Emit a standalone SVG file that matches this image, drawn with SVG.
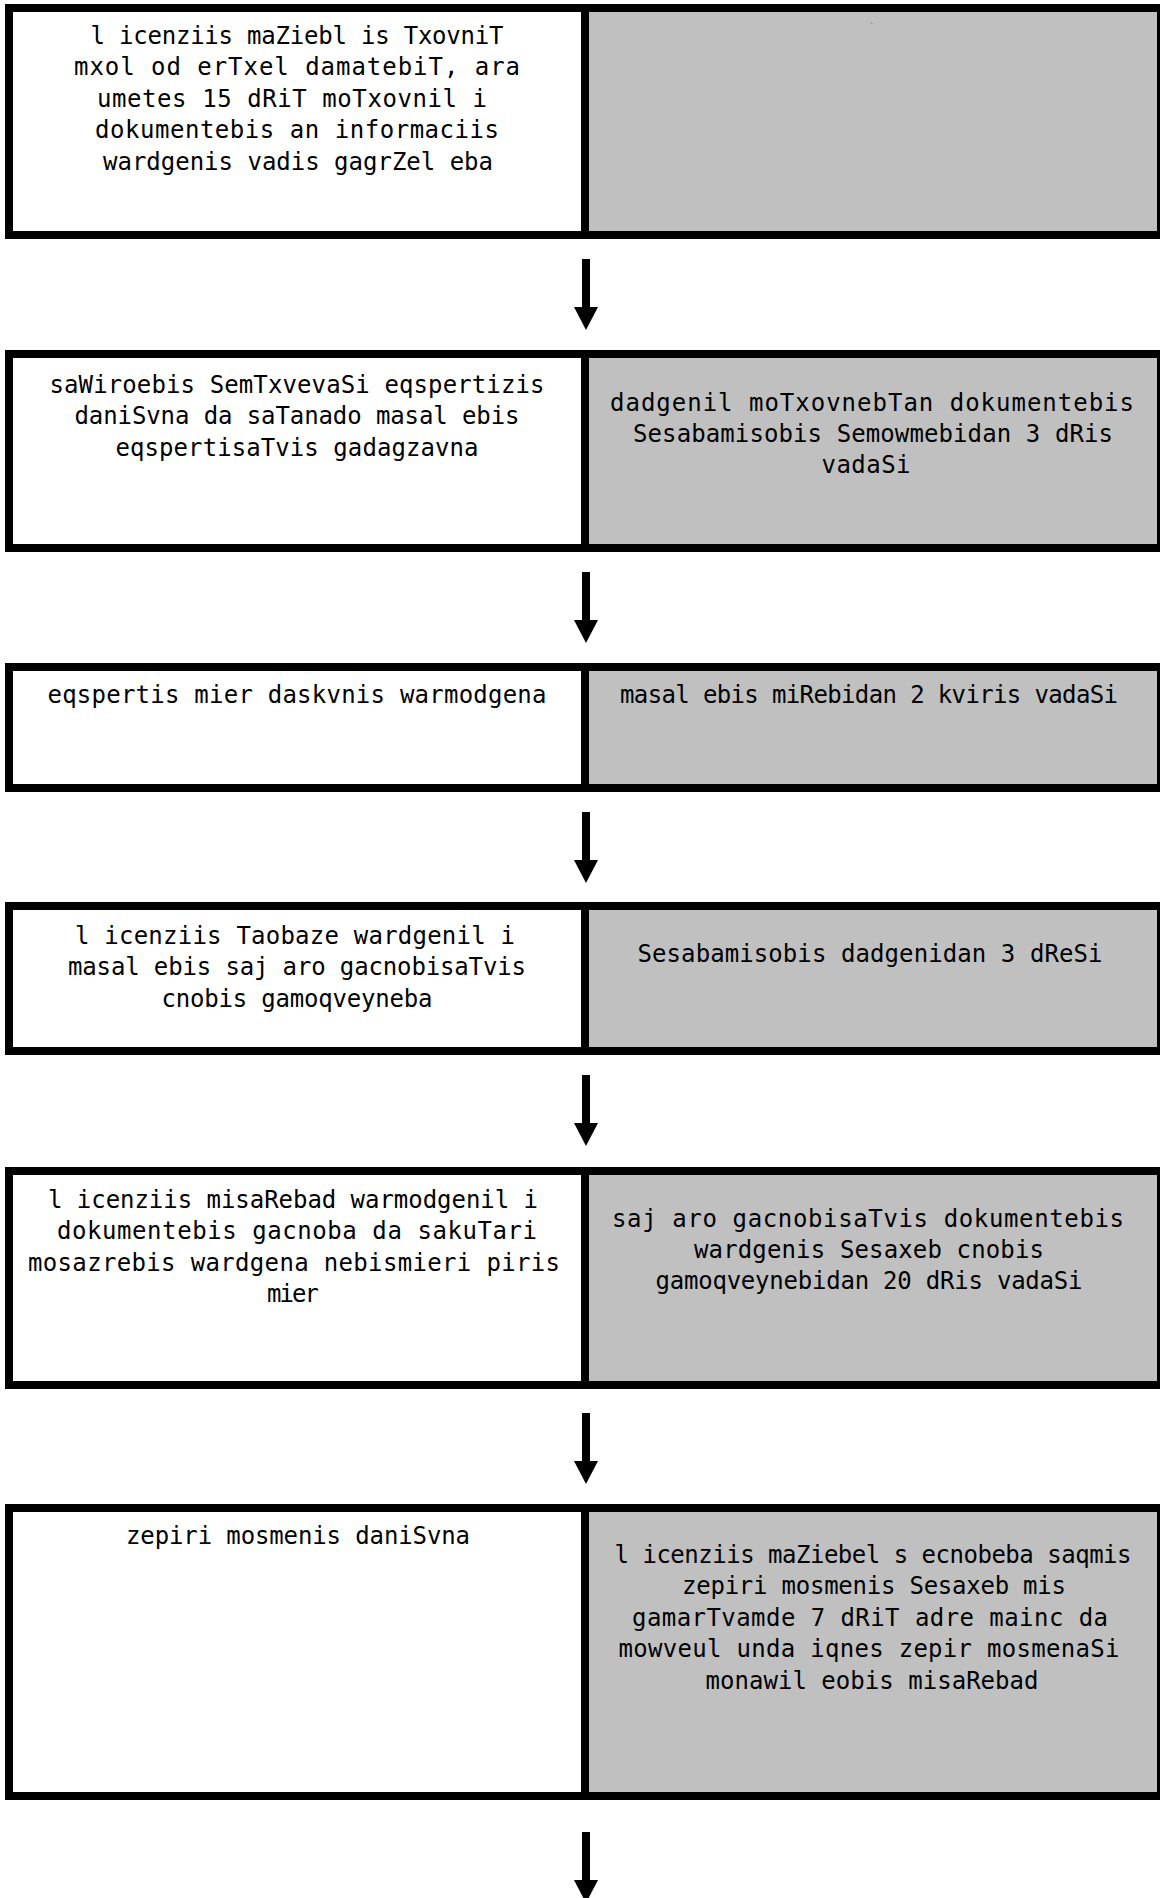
<svg xmlns="http://www.w3.org/2000/svg" width="1160" height="1898" viewBox="0 0 1160 1898">
<style>
.cell{stroke:#000;stroke-width:8}
.l{fill:#fff}
.r{fill:#c0c0c0}
.t{font-family:"Liberation Sans Narrow","DejaVu Sans Mono",monospace;font-size:24px;fill:#000;text-anchor:middle}
.c{stroke:#000;stroke-width:8;fill:none}
</style>
<defs>
<marker id="ah" markerUnits="userSpaceOnUse" markerWidth="24" markerHeight="23" refX="12" refY="0" viewBox="0 0 24 23" overflow="visible">
<path d="M0,0 L24,0 L12,23 z" fill="#000"/>
</marker>
</defs>
<rect width="1160" height="1898" fill="#fff"/>

<g id="row1-left">
<rect class="cell l" x="9" y="8" width="576" height="227"/>
<text class="t" x="297" y="44" textLength="413">l icenziis maZiebl is TxovniT</text>
<text class="t" x="297" y="75" textLength="446">mxol od erTxel  damatebiT, ara</text>
<text class="t" x="292" y="107" textLength="390">umetes 15 dRiT moTxovnil i</text>
<text class="t" x="297" y="138" textLength="404">dokumentebis an informaciis</text>
<text class="t" x="298" y="170" textLength="390">wardgenis vadis gagrZel eba</text>
</g>
<g id="row1-right">
<rect class="cell r" x="585" y="8" width="576" height="227"/>
<text x="872" y="28" style="font-family:'DejaVu Sans',sans-serif;font-size:7px;fill:#444;text-anchor:middle">`</text>
</g>

<g id="row2-left">
<rect class="cell l" x="9" y="354" width="576" height="194"/>
<text class="t" x="297" y="393" textLength="495">saWiroebis SemTxvevaSi eqspertizis</text>
<text class="t" x="297" y="424" textLength="445">daniSvna da saTanado masal ebis</text>
<text class="t" x="297" y="456" textLength="363">eqspertisaTvis gadagzavna</text>
</g>
<g id="row2-right">
<rect class="cell r" x="585" y="354" width="576" height="194"/>
<text class="t" x="872" y="411" textLength="524">dadgenil  moTxovnebTan dokumentebis</text>
<text class="t" x="873" y="442" textLength="480">Sesabamisobis Semowmebidan 3 dRis</text>
<text class="t" x="866" y="473" textLength="89">vadaSi</text>
</g>

<g id="row3-left">
<rect class="cell l" x="9" y="667" width="576" height="121"/>
<text class="t" x="297" y="703" textLength="499">eqspertis mier daskvnis warmodgena</text>
</g>
<g id="row3-right">
<rect class="cell r" x="585" y="667" width="576" height="121"/>
<text class="t" x="869" y="703" textLength="498">masal ebis miRebidan 2 kviris vadaSi</text>
</g>

<g id="row4-left">
<rect class="cell l" x="9" y="906" width="576" height="145"/>
<text class="t" x="295" y="944" textLength="440">l icenziis Taobaze wardgenil i</text>
<text class="t" x="297" y="975" textLength="458">masal ebis saj aro gacnobisaTvis</text>
<text class="t" x="297" y="1007" textLength="271">cnobis gamoqveyneba</text>
</g>
<g id="row4-right">
<rect class="cell r" x="585" y="906" width="576" height="145"/>
<text class="t" x="870" y="962" textLength="465">Sesabamisobis dadgenidan 3 dReSi</text>
</g>

<g id="row5-left">
<rect class="cell l" x="9" y="1171" width="576" height="214"/>
<text class="t" x="293" y="1208" textLength="490">l icenziis misaRebad warmodgenil i</text>
<text class="t" x="297" y="1239" textLength="480">dokumentebis gacnoba da sakuTari</text>
<text class="t" x="294" y="1271" textLength="532">mosazrebis wardgena nebismieri piris</text>
<text class="t" x="293" y="1302" textLength="52">mier</text>
</g>
<g id="row5-right">
<rect class="cell r" x="585" y="1171" width="576" height="214"/>
<text class="t" x="868" y="1227" textLength="512">saj aro gacnobisaTvis dokumentebis</text>
<text class="t" x="869" y="1258" textLength="350">wardgenis Sesaxeb cnobis</text>
<text class="t" x="869" y="1289" textLength="427">gamoqveynebidan 20 dRis vadaSi</text>
</g>

<g id="row6-left">
<rect class="cell l" x="9" y="1508" width="576" height="288"/>
<text class="t" x="298" y="1544" textLength="344">zepiri mosmenis daniSvna</text>
</g>
<g id="row6-right">
<rect class="cell r" x="585" y="1508" width="576" height="288"/>
<text class="t" x="873" y="1563" textLength="517">l icenziis maZiebel s ecnobeba saqmis</text>
<text class="t" x="874" y="1594" textLength="384">zepiri mosmenis Sesaxeb mis</text>
<text class="t" x="870" y="1626" textLength="476">gamarTvamde 7 dRiT adre mainc da</text>
<text class="t" x="869" y="1657" textLength="501">mowveul  unda iqnes zepir mosmenaSi</text>
<text class="t" x="872" y="1689" textLength="333">monawil eobis misaRebad</text>
</g>

<g id="connectors">
<line class="c" x1="586" y1="259" x2="586" y2="307" marker-end="url(#ah)"/>
<line class="c" x1="586" y1="572" x2="586" y2="620" marker-end="url(#ah)"/>
<line class="c" x1="586" y1="812" x2="586" y2="860" marker-end="url(#ah)"/>
<line class="c" x1="586" y1="1075" x2="586" y2="1123" marker-end="url(#ah)"/>
<line class="c" x1="586" y1="1413" x2="586" y2="1461" marker-end="url(#ah)"/>
<line class="c" x1="586" y1="1832" x2="586" y2="1880" marker-end="url(#ah)"/>
</g>
</svg>
